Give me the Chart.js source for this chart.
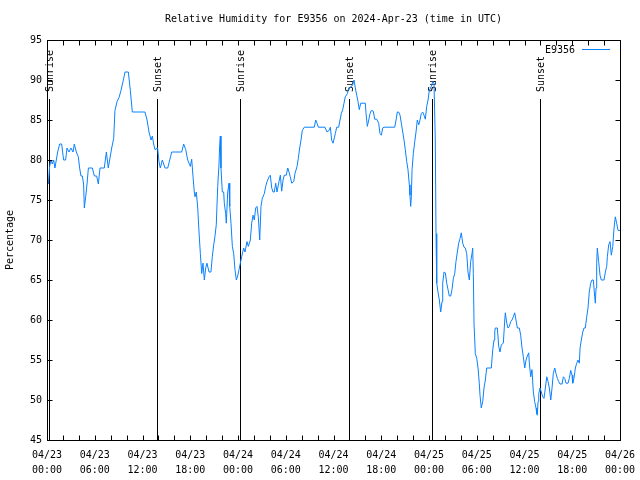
<!DOCTYPE html>
<html>
<head>
<meta charset="utf-8">
<script src="https://cdn.jsdelivr.net/npm/chart.js@4/dist/chart.umd.min.js"></script>
<style>
  html, body { margin: 0; padding: 0; background: #fff; }
</style>
</head>
<body>
<canvas id="rhChart" width="640" height="480"></canvas>
<script>
// ── Data (hour of day, relative humidity %) ───────────────────────────────
const rhApr23 = [
  [0, 77.5], [0.17, 77], [0.33, 79.2], [0.5, 80], [0.67, 79.5], [0.84, 80], [1.0, 79], [1.17, 80],
  [1.34, 81], [1.59, 82], [1.84, 82], [2.09, 80], [2.34, 80], [2.51, 81.5], [2.76, 81], [3.0, 81.5],
  [3.27, 81], [3.43, 82], [3.68, 81], [3.94, 80.4], [4.1, 79], [4.27, 78], [4.44, 78], [4.6, 77],
  [4.69, 74], [4.86, 75.4], [5.03, 77], [5.2, 79], [5.7, 79], [5.95, 78], [6.24, 78], [6.45, 77],
  [6.66, 79], [7.2, 79], [7.46, 81], [7.7, 79], [7.87, 80], [8.13, 81.5], [8.38, 82.7], [8.54, 86.2],
  [8.8, 87.3], [9.05, 87.8], [9.3, 88.7], [9.55, 89.8], [9.8, 91], [10.22, 91], [10.47, 88.7], [10.72, 86],
  [12.31, 86], [12.57, 85], [12.82, 83.5], [13.07, 82.5], [13.24, 83], [13.4, 82], [13.57, 81.3], [13.9, 81.5],
  [14.07, 79.8], [14.24, 79], [14.49, 80], [14.83, 79], [15.17, 79], [15.42, 80], [15.67, 81], [16.93, 81],
  [17.17, 82], [17.43, 81.3], [17.68, 80], [17.93, 79.4], [18.01, 79.2], [18.18, 80.1], [18.35, 77.9], [18.51, 76],
  [18.6, 75.4], [18.76, 76], [18.94, 74], [19.1, 71], [19.27, 68.3], [19.44, 65.8], [19.6, 67.1], [19.77, 65],
  [19.94, 66.5], [20.1, 67.1], [20.36, 66], [20.6, 66], [20.77, 67.9], [20.95, 69.4], [21.1, 70.4], [21.27, 71.9],
  [21.45, 76.7], [21.61, 79.4], [21.7, 81.9], [21.78, 83], [21.86, 79], [22.03, 76], [22.2, 76], [22.28, 74.6],
  [22.45, 73.3], [22.53, 72.1], [22.71, 76], [22.87, 77.1], [22.96, 74.2], [23.12, 72.1], [23.29, 69.2], [23.46, 68.3],
  [23.62, 66.3], [23.79, 65], [23.96, 65.5]
];
const rhApr24 = [
  [0.13, 66.3], [0.29, 67.1], [0.46, 67.9], [0.71, 69], [0.88, 68.5], [1.13, 69.8], [1.3, 69.2], [1.55, 70],
  [1.72, 72.1], [1.89, 73.1], [2.05, 72.5], [2.22, 74], [2.39, 74.2], [2.55, 72.9], [2.73, 70], [2.89, 74.2],
  [3.05, 75.2], [3.31, 75.8], [3.48, 76.7], [3.65, 77.3], [3.9, 77.9], [4.06, 78.1], [4.24, 76.5], [4.4, 76],
  [4.56, 76], [4.74, 77.1], [4.9, 76], [5.15, 77.3], [5.32, 78.1], [5.49, 76.1], [5.66, 77.5], [5.82, 78.1],
  [6.07, 78.1], [6.25, 79], [6.41, 78.5], [6.57, 77.9], [6.75, 77.1], [7.0, 77.3], [7.16, 78.3], [7.42, 79.2],
  [7.58, 80.2], [7.75, 81.5], [7.92, 82.5], [8.08, 83.7], [8.33, 84.1], [9.59, 84.1], [9.76, 85], [9.93, 84.6],
  [10.09, 84.1], [10.93, 84.1], [11.18, 83.5], [11.44, 83.7], [11.6, 84.1], [11.77, 82.5], [11.94, 82.1], [12.06, 82.1],
  [12.23, 83.3], [12.4, 84.1], [12.65, 84.1], [12.82, 85], [12.98, 85.8], [13.16, 86.3], [13.32, 87.1], [13.48, 87.9],
  [13.74, 88.3], [13.91, 89], [14.16, 89.1], [14.41, 89.4], [14.58, 90], [14.74, 89], [14.92, 88.1], [15.08, 87.3],
  [15.24, 86.3], [15.42, 87.1], [16.0, 87.1], [16.09, 85.8], [16.25, 84.2], [16.43, 85], [16.59, 85.8], [16.75, 86.2],
  [17.0, 86.1], [17.18, 85.1], [17.43, 85.1], [17.68, 84.6], [17.84, 83.3], [18.01, 83.1], [18.18, 84], [18.35, 84.1],
  [19.69, 84.1], [19.86, 85], [20.02, 86], [20.19, 86], [20.36, 85.6], [20.52, 84.6], [20.7, 83.5], [20.86, 82.5],
  [21.02, 81.3], [21.2, 79.8], [21.36, 78.8], [21.53, 76.9], [21.61, 75.6], [21.7, 74.2], [21.78, 75.4], [21.87, 78.8],
  [22.03, 80.8], [22.21, 82.3], [22.37, 83.5], [22.53, 85], [22.71, 84.4], [22.87, 85], [23.03, 85.8], [23.21, 86],
  [23.37, 85.6], [23.54, 85.1], [23.71, 86.7], [23.88, 87.5]
];
const rhApr25 = [
  [0.04, 88.7], [0.29, 89.2], [0.47, 89.8], [0.63, 89.6], [0.79, 82.5], [0.88, 70.8], [0.97, 64.6], [1.13, 63.5],
  [1.3, 62.5], [1.47, 61], [1.64, 62.3], [1.72, 64.6], [1.89, 66], [2.05, 65.9], [2.23, 64.6], [2.39, 63.8],
  [2.55, 63], [2.73, 63], [2.89, 63.8], [3.06, 65.2], [3.23, 65.8], [3.39, 67.3], [3.56, 68.5], [3.73, 69.6],
  [3.9, 70.2], [4.06, 70.9], [4.24, 69.6], [4.4, 69.1], [4.56, 69], [4.74, 68.3], [4.9, 66], [5.07, 65],
  [5.24, 67.3], [5.4, 68.3], [5.49, 69], [5.57, 65.8], [5.66, 59.5], [5.82, 55.8], [6.0, 55.2], [6.16, 54],
  [6.32, 52.1], [6.41, 50.6], [6.57, 49], [6.75, 49.8], [6.91, 51.5], [7.08, 52.5], [7.25, 54], [7.83, 54],
  [8.01, 56.3], [8.17, 57.5], [8.26, 58.5], [8.33, 59], [8.59, 59], [8.76, 56.7], [8.92, 56], [9.09, 56.9],
  [9.34, 57.1], [9.52, 60], [9.59, 60.9], [9.77, 59.6], [9.93, 59], [10.09, 59.2], [10.27, 59.8], [10.43, 60],
  [10.6, 60.4], [10.77, 60.9], [10.93, 60], [11.1, 59], [11.35, 59], [11.52, 58.1], [11.69, 56.5], [11.85, 55.4],
  [12.03, 54], [12.19, 55], [12.36, 55.5], [12.53, 55.9], [12.61, 54.6], [12.78, 52.9], [12.94, 53.8], [13.11, 51],
  [13.28, 49.8], [13.45, 49], [13.54, 48.3], [13.61, 48.1], [13.7, 49.8], [13.79, 50.8], [13.95, 51.5], [14.11, 51],
  [14.29, 50.4], [14.45, 50.2], [14.62, 51.5], [14.8, 52.9], [14.96, 52.3], [15.12, 51.5], [15.3, 50], [15.46, 51.5],
  [15.62, 53.3], [15.8, 54], [15.96, 53.3], [16.13, 52.7], [16.3, 52.3], [16.46, 52], [16.72, 52], [16.88, 52.9],
  [17.05, 52.7], [17.22, 52.1], [17.47, 52.1], [17.63, 52.7], [17.81, 53.7], [17.97, 53.1], [18.06, 52.1], [18.22, 52.7],
  [18.39, 54], [18.56, 54.6], [18.72, 55], [18.89, 54.6], [18.98, 56.5], [19.14, 57.5], [19.32, 58.5], [19.48, 59],
  [19.64, 59], [19.82, 60.4], [19.98, 61.5], [20.14, 63.5], [20.32, 64.6], [20.48, 65], [20.65, 65], [20.82, 62.9],
  [20.9, 62.1], [20.99, 64], [21.07, 67.1], [21.15, 69], [21.32, 67.3], [21.49, 65.6], [21.65, 65], [21.99, 65],
  [22.16, 66], [22.33, 66.7], [22.41, 67.9], [22.58, 69.4], [22.75, 69.8], [22.91, 68.1], [23.09, 69.2], [23.25, 71.5],
  [23.41, 72.9], [23.58, 72.1], [23.75, 71.2], [24.0, 71.2]
];

// sunrise / sunset markers, hours since 04/23 00:00 UTC
const sunHours = [0.29, 13.86, 24.29, 37.99, 48.42, 61.99];
const sunLabels = ['Sunrise', 'Sunset', 'Sunrise', 'Sunset', 'Sunrise', 'Sunset'];

// x tick labels, one per 6 hours
const xTickDates = ['04/23', '04/23', '04/23', '04/23', '04/24', '04/24', '04/24', '04/24', '04/25', '04/25', '04/25', '04/25', '04/26'];
const xTickTimes = ['00:00', '06:00', '12:00', '18:00', '00:00', '06:00', '12:00', '18:00', '00:00', '06:00', '12:00', '18:00', '00:00'];

const stationName = 'E9356';
const chartTitle = 'Relative Humidity for E9356 on 2024-Apr-23 (time in UTC)';
const yLabel = 'Percentage';

// ── Build points ──────────────────────────────────────────────────────────
const points = [
  ...rhApr23.map(([h, v]) => ({ x: h, y: v })),
  ...rhApr24.map(([h, v]) => ({ x: h + 24, y: v })),
  ...rhApr25.map(([h, v]) => ({ x: h + 48, y: v })),
];

const FONT = "'DejaVu Sans Mono', monospace";
const LINE_COLOR = '#0a80ff';

// gnuplot-ish decorations: frame, inward ticks, sun lines, title, key
const gnuplotDecor = {
  id: 'gnuplotDecor',
  beforeDatasetsDraw(chart) {
    const { ctx, chartArea: a, scales: { x } } = chart;
    ctx.save();
    ctx.strokeStyle = '#000';
    ctx.lineWidth = 1;
    ctx.fillStyle = '#000';
    ctx.font = '10px ' + FONT;
    sunHours.forEach((h, i) => {
      const px = Math.round(x.getPixelForValue(h)) + 0.5;
      ctx.beginPath();
      ctx.moveTo(px, a.top + 59);
      ctx.lineTo(px, a.bottom);
      ctx.stroke();
      ctx.save();
      ctx.translate(px + 1, a.top + 52);
      ctx.rotate(-Math.PI / 2);
      ctx.textAlign = 'left';
      ctx.textBaseline = 'middle';
      ctx.fillText(sunLabels[i], 0, 0);
      ctx.restore();
    });
    ctx.restore();
  },
  afterDraw(chart) {
    const { ctx, chartArea: a, scales: { x, y } } = chart;
    const L = Math.round(a.left) + 0.5, R = Math.round(a.right) + 0.5;
    const T = Math.round(a.top) + 0.5, B = Math.round(a.bottom) + 0.5;
    ctx.save();
    ctx.strokeStyle = '#000';
    ctx.lineWidth = 1;
    ctx.beginPath();
    // inward y ticks, both sides
    y.ticks.forEach(t => {
      const py = Math.round(y.getPixelForValue(t.value)) + 0.5;
      ctx.moveTo(L, py); ctx.lineTo(L + 5, py);
      ctx.moveTo(R, py); ctx.lineTo(R - 5, py);
    });
    // inward x ticks every 2 hours, top and bottom
    for (let h = x.min; h <= x.max; h += 2) {
      const px = Math.round(x.getPixelForValue(h)) + 0.5;
      ctx.moveTo(px, B); ctx.lineTo(px, B - 5);
      ctx.moveTo(px, T); ctx.lineTo(px, T + 5);
    }
    ctx.stroke();
    ctx.strokeRect(L, T, R - L, B - T);

    // title
    ctx.fillStyle = '#000';
    ctx.font = '10px ' + FONT;
    ctx.textAlign = 'center';
    ctx.textBaseline = 'middle';
    ctx.fillText(chartTitle, (a.left + a.right) / 2, 19);

    // key
    ctx.textAlign = 'right';
    ctx.fillText(stationName, a.right - 45, a.top + 10);
    ctx.strokeStyle = LINE_COLOR;
    ctx.beginPath();
    ctx.moveTo(a.right - 38, a.top + 9.5);
    ctx.lineTo(a.right - 10, a.top + 9.5);
    ctx.stroke();
    ctx.restore();
  }
};

new Chart(document.getElementById('rhChart'), {
  type: 'line',
  data: {
    datasets: [{
      label: stationName,
      data: points,
      borderColor: LINE_COLOR,
      borderWidth: 1,
      pointRadius: 0,
      fill: false,
      tension: 0,
    }]
  },
  options: {
    responsive: false,
    animation: false,
    layout: { padding: { top: 40, right: 20, left: 0, bottom: 0 } },
    plugins: { legend: { display: false }, tooltip: { enabled: false }, title: { display: false } },
    scales: {
      x: {
        type: 'linear',
        min: 0,
        max: 72,
        afterFit: s => { s.height = 40; s.paddingLeft = 0; s.paddingRight = 0; },
        grid: { display: false, drawTicks: false },
        border: { display: false },
        ticks: {
          stepSize: 6,
          autoSkip: false,
          maxRotation: 0,
          padding: 8,
          color: '#000',
          font: { family: FONT, size: 10, lineHeight: 1.5 },
          callback: v => {
            const i = Math.round(v / 6);
            return [xTickDates[i], xTickTimes[i]];
          }
        }
      },
      y: {
        min: 45,
        max: 95,
        afterFit: s => { s.width = 47; },
        grid: { display: false, drawTicks: false },
        border: { display: false },
        title: {
          display: true,
          text: yLabel,
          color: '#000',
          font: { family: FONT, size: 10 },
          padding: { top: 4, bottom: 0 }
        },
        ticks: {
          stepSize: 5,
          padding: 5,
          color: '#000',
          font: { family: FONT, size: 10 }
        }
      }
    }
  },
  plugins: [gnuplotDecor]
});
</script>
</body>
</html>
